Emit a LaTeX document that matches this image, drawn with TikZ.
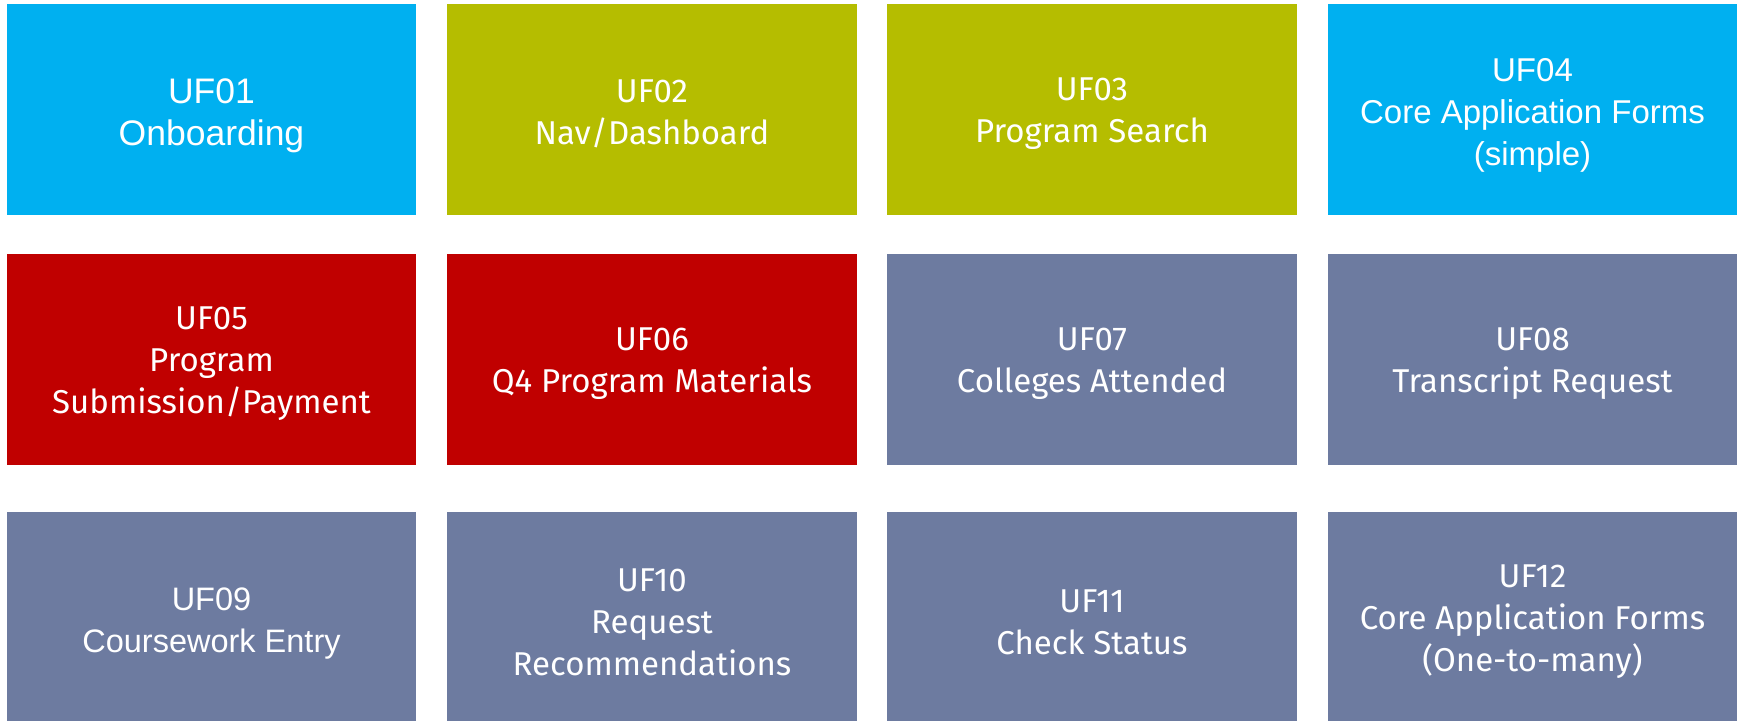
\documentclass[tikz,border=0pt]{standalone}
\usepackage{fontspec}
\setmainfont{Liberation Sans}
\newfontfamily\fgfont{Fira Sans}
\definecolor{cblue}{HTML}{00B0F0}
\definecolor{colive}{HTML}{B5BD00}
\definecolor{cred}{HTML}{C00000}
\definecolor{cgray}{HTML}{6D7BA0}
\tikzset{
  tile/.style={rectangle, minimum width=409.5pt, minimum height=211pt, inner sep=0pt},
  txt/.style={inner sep=0pt, align=center, text=white},
  ar/.style={txt, yshift=-6pt, font={\fontsize{#1}{42}\selectfont}},
  fg/.style={txt, yshift=-4.5pt, font={\fgfont\fontsize{#1}{42}\selectfont}},
}
\newcommand\tileat[5]{%
  \node[tile, fill=#3] (#1) at (#2) {};
  \node[#4] (#1-t) at (#1.center) {#5};}
\begin{document}
\begin{tikzpicture}[x=1pt,y=-1pt]
\useasboundingbox (0,0) rectangle (1742,720);
\clip (0,0) rectangle (1742,720);
% row 1
\tileat{uf01}{211.5,109.5}{cblue}{ar=35.5}{UF01\\Onboarding}
\tileat{uf02}{652,109.5}{colive}{fg=33}{UF02\\Nav/Dashboard}
\tileat{uf03}{1092,109.5}{colive}{fg=33}{UF03\\Program Search}
\tileat{uf04}{1532.5,109.5}{cblue}{ar=33}{UF04\\Core Application Forms\\(simple)}
% row 2
\tileat{uf05}{211.5,359.5}{cred}{fg=33}{UF05\\Program\\Submission/Payment}
\tileat{uf06}{652,359.5}{cred}{fg=33}{UF06\\Q4 Program Materials}
\tileat{uf07}{1092,359.5}{cgray}{fg=33}{UF07\\Colleges Attended}
\tileat{uf08}{1532.5,359.5}{cgray}{fg=33}{UF08\\Transcript Request}
% row 3
\tileat{uf09}{211.5,617.5}{cgray}{ar=32.5}{UF09\\Coursework Entry}
\tileat{uf10}{652,617.5}{cgray}{fg=33}{UF10\\Request\\Recommendations}
\tileat{uf11}{1092,617.5}{cgray}{fg=33}{UF11\\Check Status}
\tileat{uf12}{1532.5,617.5}{cgray}{fg=33}{UF12\\Core Application Forms\\(One-to-many)}
\end{tikzpicture}
\end{document}
